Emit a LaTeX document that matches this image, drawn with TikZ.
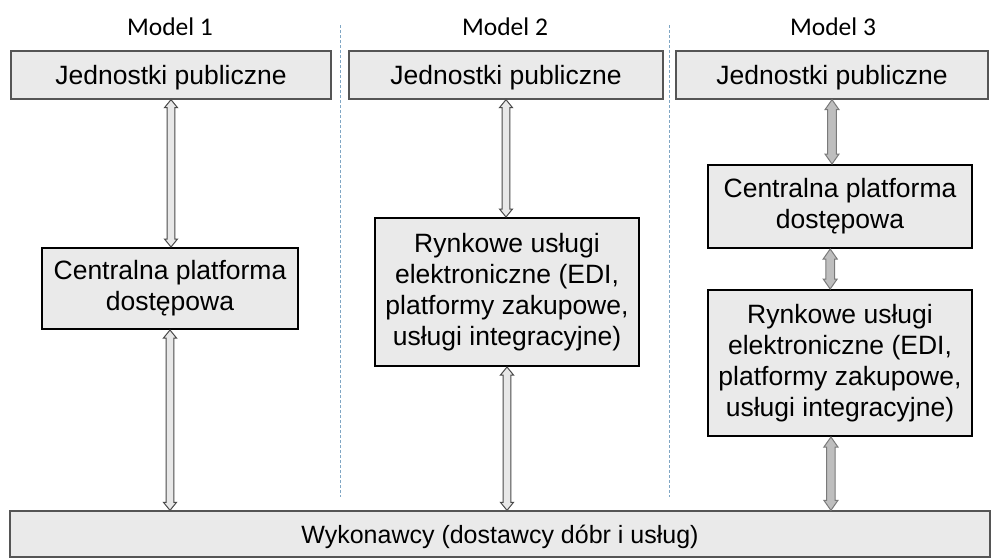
\documentclass[tikz,border=0pt]{standalone}
\usepackage{fontspec}
\setmainfont{Liberation Sans}
\newfontfamily\modelfont{Carlito}
\usetikzlibrary{calc}
\definecolor{boxfill}{HTML}{EAEAEA}
\definecolor{boxline}{HTML}{555555}
\definecolor{sepline}{HTML}{7FA6C4}
\definecolor{arrfillA}{HTML}{E8E8E8}
\definecolor{arrlineA}{HTML}{4A4A4A}
\definecolor{arrfillB}{HTML}{BEBEBE}
\definecolor{arrlineB}{HTML}{7A7A7A}
\tikzset{
  topbox/.style={draw=boxline, line width=1.3pt, fill=boxfill, minimum height=48pt, inner sep=0pt,
    text depth=0pt, font=\fontsize{26.5}{31}\selectfont},
  midbox/.style={draw=black, line width=2pt, fill=boxfill, inner sep=0pt, align=center,
    font=\fontsize{26.5}{30.8}\selectfont},
  modellabel/.style={font=\modelfont\fontsize{25.5}{28}\selectfont},
  sep/.style={draw=sepline, line width=0.8pt, dash pattern=on 3pt off 2pt},
  dbl/.style n args={3}{to path={let \p1=(\tikztostart), \p2=(\tikztotarget) in
    (\x1,\y1) -- ({\x1+#2},{\y1-#3}) -- ({\x1+#1},{\y1-#3}) -- ({\x1+#1},{\y2+#3})
    -- ({\x1+#2},{\y2+#3}) -- (\x1,\y2) -- ({\x1-#2},{\y2+#3}) -- ({\x1-#1},{\y2+#3})
    -- ({\x1-#1},{\y1-#3}) -- ({\x1-#2},{\y1-#3}) -- cycle}},
  arrA/.style={draw=arrlineA, fill=arrfillA, line width=1pt, line join=miter, dbl={3.8pt}{6.5pt}{8pt}},
  arrB/.style={draw=arrlineB, fill=arrfillB, line width=1pt, line join=miter, dbl={4.3pt}{7pt}{10pt}},
}
\begin{document}
\begin{tikzpicture}[x=1pt, y=-1pt]
\useasboundingbox (0,0) rectangle (992,558);
% separators
\draw[sep] (340,25) -- (340,497);
\draw[sep] (669,25) -- (669,497);
% model labels
\node[modellabel] (m1) at (170,27) {Model 1};
\node[modellabel] (m2) at (505,27) {Model 2};
\node[modellabel] (m3) at (833,27) {Model 3};
% top boxes
\node[topbox, minimum width=320pt] (jp1) at (171,75) {Jednostki publiczne};
\node[topbox, minimum width=314pt] (jp2) at (506,75) {Jednostki publiczne};
\node[topbox, minimum width=312pt] (jp3) at (832,75) {Jednostki publiczne};
% middle boxes
\node[midbox, minimum width=256pt, minimum height=81pt] (cp1) at (170,288.5) {Centralna platforma\\dostępowa};
\node[midbox, minimum width=264pt, minimum height=148pt] (r2) at (507,292) {Rynkowe usługi\\elektroniczne (EDI,\\platformy zakupowe,\\usługi integracyjne)};
\node[midbox, minimum width=264pt, minimum height=83pt] (cp3) at (840,206.5) {Centralna platforma\\dostępowa};
\node[midbox, minimum width=264pt, minimum height=146pt] (r3) at (840,363) {Rynkowe usługi\\elektroniczne (EDI,\\platformy zakupowe,\\usługi integracyjne)};
% bottom box
\node[draw=boxline, line width=1.3pt, fill=boxfill, minimum width=980pt, minimum height=46pt, inner sep=0pt,
  text depth=0pt, font=\fontsize{25}{28}\selectfont] (wk) at (500,534) {Wykonawcy (dostawcy dóbr i usług)};
% arrows
\draw[arrA] (jp1.south) to (cp1.north);
\draw[arrA] (cp1.south) to (wk.north);
\draw[arrA] (jp2.south) to (r2.north);
\draw[arrA] (r2.south) to (wk.north);
\draw[arrB] (jp3.south) to (cp3.north);
\draw[arrB] (cp3.257.8) to (r3.north);
\draw[arrB] (r3.263) to (wk.north);
\end{tikzpicture}
\end{document}
